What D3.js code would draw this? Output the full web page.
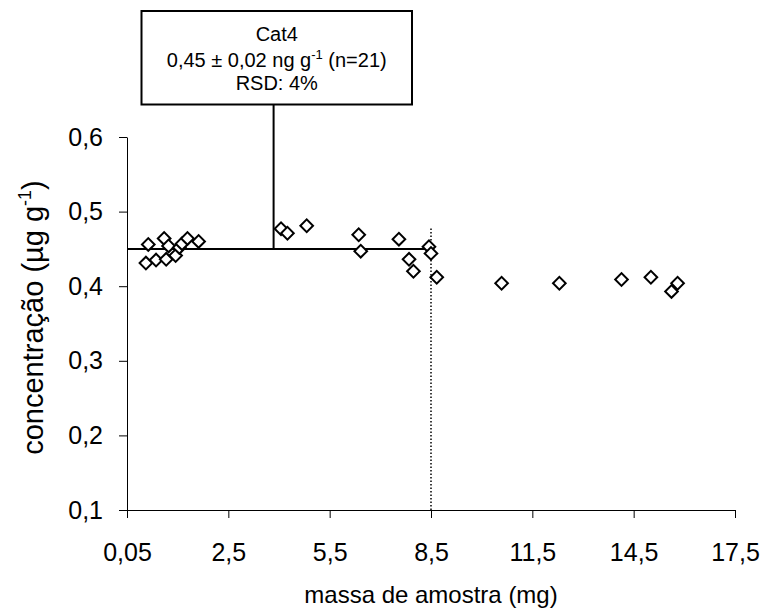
<!DOCTYPE html>
<html>
<head>
<meta charset="utf-8">
<script src="https://cdn.jsdelivr.net/npm/d3@7"></script>
<style>
  html, body { margin: 0; padding: 0; background: #fff; }
  svg { display: block; font-family: "Liberation Sans", Arial, sans-serif; }
</style>
</head>
<body>
<svg id="chart" width="765" height="615"></svg>
<script>
// Sample mass (mg) and measured concentration (µg g-1)
const massa = [0.13, 0.06, 0.36, 0.60, 0.73, 0.66, 0.94, 1.05, 1.13, 1.29, 1.62,
               4.06, 4.25, 4.82, 6.36, 6.42, 7.55, 7.85, 7.98, 8.44, 8.50,
               8.67, 10.59, 12.30, 14.14, 15.01, 15.80, 15.62];
const concentracao = [0.456, 0.431, 0.435, 0.464, 0.454, 0.436, 0.441, 0.452, 0.457, 0.464, 0.460,
                      0.477, 0.471, 0.481, 0.469, 0.447, 0.463, 0.436, 0.420, 0.453, 0.444,
                      0.412, 0.404, 0.404, 0.409, 0.412, 0.404, 0.393];

// Axis ticks and labels
const xTicks = [-0.5, 2.5, 5.5, 8.5, 11.5, 14.5, 17.5];
const xTickLabels = ["0,05", "2,5", "5,5", "8,5", "11,5", "14,5", "17,5"];
const xMinorTicks = [1, 4, 7, 10, 13, 16];
const yTicks = [0.1, 0.2, 0.3, 0.4, 0.5, 0.6];
const yTickLabels = ["0,1", "0,2", "0,3", "0,4", "0,5", "0,6"];
const yMinorTicks = [0.15, 0.25, 0.35, 0.45, 0.55];

// Mean of the n=21 samples up to the mass cut-off
const media = 0.45;
const massaLimite = 8.5;
const topoLimite = 0.48;
const massaConector = 3.84;
const caixaLinhas = ["Cat4", "0,45 ± 0,02 ng g", "RSD: 4%"];

const svg = d3.select("#chart");
const x = d3.scaleLinear().domain([-0.5, 17.5]).range([127, 735]);
const y = d3.scaleLinear().domain([0.1, 0.6]).range([510, 137]);

const font = 25;
const fam = "'Liberation Sans', Arial, sans-serif";

// X axis
const gx = svg.append("g").attr("transform", `translate(0,${y(0.1)})`);
gx.call(d3.axisBottom(x).tickValues(xMinorTicks).tickFormat("").tickSizeOuter(0).tickSizeInner(6));
gx.call(d3.axisBottom(x).tickValues(xTicks).tickFormat((d, i) => xTickLabels[i])
  .tickSizeOuter(0).tickSizeInner(8).tickPadding(25));
gx.selectAll("line").attr("stroke", "#000");
gx.selectAll("path").attr("stroke", "#000");
gx.selectAll("text").attr("font-size", font).attr("fill", "#000").attr("font-family", fam);

// Y axis
const gy = svg.append("g").attr("transform", `translate(${x(-0.5)},0)`);
gy.call(d3.axisLeft(y).tickValues(yMinorTicks).tickFormat("").tickSizeOuter(0).tickSizeInner(8));
gy.call(d3.axisLeft(y).tickValues(yTicks).tickFormat((d, i) => yTickLabels[i])
  .tickSizeOuter(0).tickSizeInner(8).tickPadding(16));
gy.selectAll("line").attr("stroke", "#000");
gy.selectAll("path").attr("stroke", "#000");
gy.selectAll("text").attr("font-size", font).attr("fill", "#000").attr("font-family", fam);

// Dotted cut-off line
svg.append("line")
  .attr("x1", x(massaLimite)).attr("x2", x(massaLimite))
  .attr("y1", y(0.1)).attr("y2", y(topoLimite))
  .attr("stroke", "#000").attr("stroke-width", 1.5).attr("stroke-dasharray", "1.5,2");

// Mean line
svg.append("line")
  .attr("x1", x(-0.5)).attr("x2", x(massaLimite))
  .attr("y1", y(media)).attr("y2", y(media))
  .attr("stroke", "#000").attr("stroke-width", 2);

// Annotation box and connector
const box = { x: 141.5, y: 11, w: 270.5, h: 93.5 };
svg.append("line")
  .attr("x1", x(massaConector)).attr("x2", x(massaConector))
  .attr("y1", y(media)).attr("y2", box.y + box.h)
  .attr("stroke", "#000").attr("stroke-width", 2);
svg.append("rect")
  .attr("x", box.x).attr("y", box.y).attr("width", box.w).attr("height", box.h)
  .attr("fill", "#fff").attr("stroke", "#000").attr("stroke-width", 2);

const cx = box.x + box.w / 2;
const tg = svg.append("g")
  .attr("transform", `translate(${cx},0)`)
  .attr("font-size", 20).attr("text-anchor", "middle").attr("fill", "#000");
tg.append("text").attr("x", 0).attr("y", 41).text(caixaLinhas[0]);
const t2 = tg.append("text").attr("x", 0).attr("y", 67);
t2.append("tspan").text(caixaLinhas[1]);
t2.append("tspan").attr("font-size", 13).attr("dy", -8).text("-1");
t2.append("tspan").attr("dy", 8).text(" (n=21)");
tg.append("text").attr("x", 0).attr("y", 90).text(caixaLinhas[2]);

// Data points as open diamonds
const diamond = d3.symbol().type(d3.symbolSquare).size(80);
svg.append("g").selectAll("path")
  .data(massa.map((m, i) => [m, concentracao[i]]))
  .join("path")
  .attr("d", diamond)
  .attr("transform", d => `translate(${x(d[0])},${y(d[1])}) rotate(45)`)
  .attr("fill", "#fff").attr("stroke", "#000").attr("stroke-width", 2);

// Axis titles
svg.append("text")
  .attr("x", (x(-0.5) + x(17.5)) / 2).attr("y", 603)
  .attr("text-anchor", "middle").attr("font-size", 24).attr("fill", "#000")
  .text("massa de amostra (mg)");

const yt = svg.append("text")
  .attr("transform", `translate(43,${(y(0.1) + y(0.6)) / 2 - 6}) rotate(-90)`)
  .attr("text-anchor", "middle").attr("font-size", 29).attr("fill", "#000");
yt.append("tspan").text("concentração (µg g");
yt.append("tspan").attr("font-size", 18).attr("dy", -12).text("-1");
yt.append("tspan").attr("dy", 12).text(")");
</script>
</body>
</html>
